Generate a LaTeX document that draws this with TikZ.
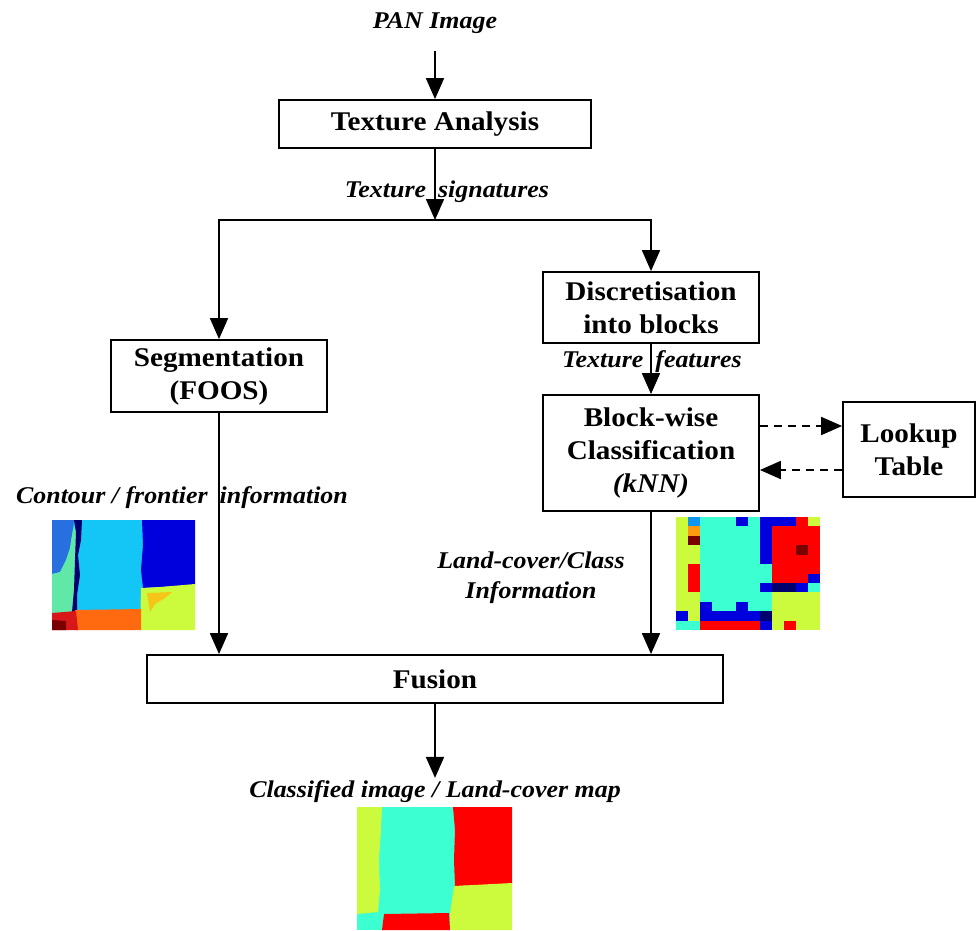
\documentclass[tikz,border=0pt]{standalone}
\usepackage{fontspec}
\setmainfont{Liberation Serif}[FakeStretch=1.08]
\usetikzlibrary{arrows.meta,positioning}

% map colours
\definecolor{gy}{HTML}{CCFA3C}
\definecolor{aq}{HTML}{3CFFD2}
\definecolor{bl}{HTML}{0000DC}
\definecolor{rd}{HTML}{FF0000}
\definecolor{dr}{HTML}{7A0000}
\definecolor{og}{HTML}{FF9A10}
\definecolor{lb}{HTML}{1096F0}
\definecolor{nv}{HTML}{00006E}
\definecolor{mb}{HTML}{2870E0}
\definecolor{sk}{HTML}{14C6F5}
\definecolor{lg}{HTML}{60E8A8}
\definecolor{gd}{HTML}{F5C518}
\definecolor{orr}{HTML}{FF6A10}
\definecolor{rr}{HTML}{D81818}

\begin{document}
\begin{tikzpicture}[x=1pt,y=-1pt,
  box/.style={draw,line width=1.8pt,inner sep=0pt,align=center,
    font=\bfseries\fontsize{27}{33}\selectfont},
  lbl/.style={inner sep=2pt,align=center,
    font=\bfseries\itshape\fontsize{24}{30}\selectfont},
  arr/.style={line width=1.8pt,-{Triangle[length=21pt,width=18pt]}},
  dsh/.style={arr,dash pattern=on 8pt off 6pt}]
\useasboundingbox[fill=white] (0,0) rectangle (977,930);

% blocks
\node[box,minimum width=312pt,minimum height=48pt] (tex) at (435,124) {Texture Analysis};
\node[box,minimum width=216pt,minimum height=72pt] (seg) at (219,376) {Segmentation\\(FOOS)};
\node[box,minimum width=216pt,minimum height=71pt] (disc) at (651,307.5) {Discretisation\\into blocks};
\node[box,minimum width=216pt,minimum height=116pt] (knn) at (651,453) {Block-wise\\Classification\\\textit{(kNN)}};
\node[box,minimum width=132pt,minimum height=95pt] (lut) at (909,449.5) {Lookup\\Table};
\node[box,minimum width=576pt,minimum height=48pt] (fus) at (435,679) {Fusion};

% labels
\node[lbl,anchor=base] (pan) at (435,28) {PAN Image};
\node[lbl,anchor=base] (sig) at (447,197) {Texture\enspace signatures};
\node[lbl,anchor=base] (feat) at (652,367) {Texture\enspace features};
\node[lbl,anchor=base] (cont) at (182,503) {Contour / frontier\enspace information};
\node[lbl] (lcc) at (531,578) {Land-cover/Class\\Information};
\node[lbl,anchor=base] (cls) at (435,797) {Classified image / Land-cover map};
\coordinate (split) at (435,220);

% connectors
\draw[arr,shorten <=16pt] (pan) -- (tex);
\draw[arr] (tex) -- (split);
\draw[arr] (split) -| (seg);
\draw[arr] (split) -| (disc);
\draw[arr] (disc) -- (knn);
\draw[dsh] ([yshift=27pt]knn.east) -- ([yshift=27pt]knn.east -| lut.west);
\draw[dsh] ([yshift=-17pt]knn.east -| lut.west) -- ([yshift=-17pt]knn.east);
\draw[arr] (seg) -- (seg |- fus.north);
\draw[arr] (knn) -- (knn |- fus.north);
\draw[arr] (fus) -- (cls);

% segmentation map
\fill[sk] (52,520) rectangle (195,630);
\fill[mb] (52,520) -- (74,520) -- (72,535) -- (70,548) -- (66,560) -- (60,572) -- (52,574) -- cycle;
\fill[lg] (52,574) -- (60,572) -- (66,560) -- (70,548) -- (72,535) -- (74,526) -- (77,532)
  -- (76,560) -- (75,590) -- (74,612) -- (52,614) -- cycle;
\fill[nv] (74,520) -- (82,520) -- (81,540) -- (78,555) -- (80,575) -- (77,595) -- (77,611)
  -- (72,612) -- (74,590) -- (75,560) -- (76,532) -- cycle;
\fill[bl] (142,520) -- (195,520) -- (195,585) -- (160,587) -- (143,588) -- (141,570) -- (143,545) -- cycle;
\fill[gy] (141,588) -- (160,587) -- (195,584) -- (195,630) -- (140,630) -- cycle;
\fill[gd] (147,593) -- (172,592) -- (165,598) -- (155,604) -- (150,612) -- cycle;
\fill[orr] (75,610) -- (141,609) -- (141,630) -- (75,630) -- cycle;
\fill[rr] (52,613) -- (76,611) -- (78,630) -- (52,630) -- cycle;
\fill[dr] (52,620) -- (66,621) -- (66,630) -- (52,630) -- cycle;

% block-wise class map, 12x12 cells
\foreach \row [count=\j from 0] in {
  {gy,lb,aq,aq,aq,bl,aq,bl,bl,bl,rd,gy},
  {gy,og,aq,aq,aq,aq,aq,bl,rd,rd,rd,rd},
  {gy,dr,aq,aq,aq,aq,aq,bl,rd,rd,rd,rd},
  {gy,gy,aq,aq,aq,aq,aq,bl,rd,rd,dr,rd},
  {gy,gy,aq,aq,aq,aq,aq,bl,rd,rd,rd,rd},
  {gy,rd,aq,aq,aq,aq,aq,aq,rd,rd,rd,rd},
  {gy,rd,aq,aq,aq,aq,aq,aq,rd,rd,rd,bl},
  {gy,rd,aq,aq,aq,aq,aq,bl,nv,nv,bl,aq},
  {gy,gy,aq,aq,aq,aq,aq,aq,gy,gy,gy,gy},
  {gy,gy,bl,aq,aq,bl,aq,aq,gy,gy,gy,gy},
  {bl,gy,bl,bl,bl,bl,bl,nv,gy,gy,gy,gy},
  {aq,aq,rd,rd,rd,rd,rd,bl,gy,rd,gy,gy}}
  \foreach \c [count=\i from 0] in \row
    \fill[\c] (676+12*\i,517+9.42*\j) rectangle ++(12,9.42);

% final land-cover map
\fill[aq] (357,807) rectangle (512,930);
\fill[gy] (357,807) -- (382,807) -- (381,830) -- (379,860) -- (380,890) -- (378,912) -- (357,914) -- cycle;
\fill[rd] (453,807) -- (512,807) -- (512,884) -- (455,886) -- (454,860) -- (455,830) -- cycle;
\fill[gy] (454,886) -- (512,883) -- (512,930) -- (450,930) -- (450,914) -- cycle;
\fill[rd] (384,914) -- (449,913) -- (450,930) -- (382,930) -- cycle;
\end{tikzpicture}
\end{document}
